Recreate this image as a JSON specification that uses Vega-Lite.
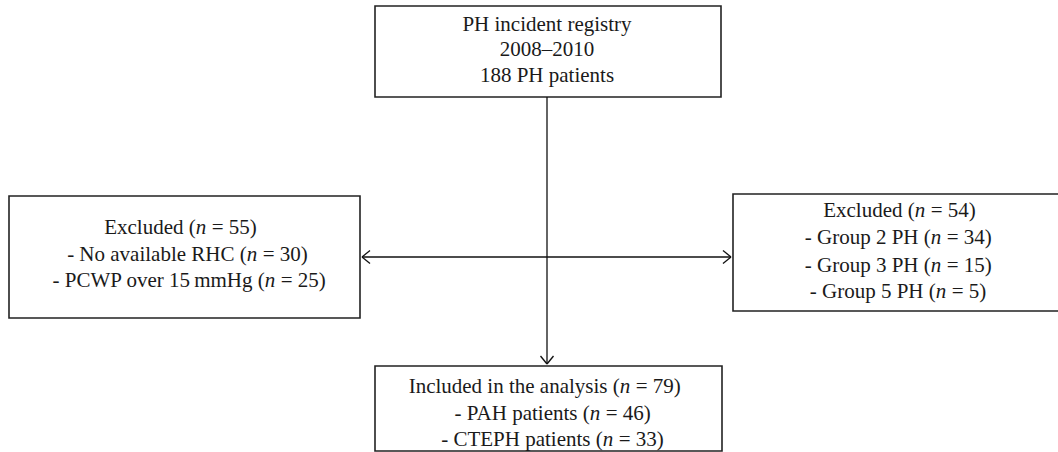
{
  "$schema": "https://vega.github.io/schema/vega-lite/v6.json",
  "width": 1058,
  "height": 452,
  "autosize": {"type": "none"},
  "padding": 0,
  "background": "white",
  "config": {"view": {"stroke": null}},
  "datasets": {
    "boxes": [
      {"box": "registry", "x": 375, "x2": 721, "y": 6, "y2": 97},
      {"box": "excluded_left", "x": 9, "x2": 360, "y": 196, "y2": 318},
      {"box": "excluded_right", "x": 733, "x2": 1072, "y": 194, "y2": 311},
      {"box": "included", "x": 375, "x2": 722, "y": 366, "y2": 451}
    ],
    "segments": [
      {"seg": "horizontal", "x": 362, "y": 257, "x2": 731, "y2": 257},
      {"seg": "vertical", "x": 547, "y": 97, "x2": 547, "y2": 364},
      {"seg": "head_left_a", "x": 362, "y": 257, "x2": 370, "y2": 250.5},
      {"seg": "head_left_b", "x": 362, "y": 257, "x2": 370, "y2": 263.5},
      {"seg": "head_right_a", "x": 731, "y": 257, "x2": 723, "y2": 250.5},
      {"seg": "head_right_b", "x": 731, "y": 257, "x2": 723, "y2": 263.5},
      {"seg": "head_down_a", "x": 547, "y": 364, "x2": 540.5, "y2": 356},
      {"seg": "head_down_b", "x": 547, "y": 364, "x2": 553.5, "y2": 356}
    ],
    "plain": [
      {"t": "PH incident registry", "x": 547, "y": 31},
      {"t": "2008–2010", "x": 547, "y": 56},
      {"t": "188 PH patients", "x": 547, "y": 82}
    ],
    "withn": [
      {"pre": "Excluded (", "post": "= 55)", "x": 201, "y": 234},
      {"pre": "- No available RHC (", "post": "= 30)", "x": 252, "y": 261},
      {"pre": "- PCWP over 15\u2009mmHg (", "post": "= 25)", "x": 270, "y": 287},
      {"pre": "Excluded (", "post": "= 54)", "x": 920, "y": 217},
      {"pre": "- Group 2 PH (", "post": "= 34)", "x": 936, "y": 244},
      {"pre": "- Group 3 PH (", "post": "= 15)", "x": 936, "y": 272},
      {"pre": "- Group 5 PH (", "post": "= 5)", "x": 941, "y": 298},
      {"pre": "Included in the analysis (", "post": "= 79)", "x": 625, "y": 393},
      {"pre": "- PAH patients (", "post": "= 46)", "x": 595, "y": 420},
      {"pre": "- CTEPH patients (", "post": "= 33)", "x": 608, "y": 446}
    ]
  },
  "layer": [
    {
      "data": {"name": "boxes"},
      "mark": {"type": "rect", "fill": "white", "stroke": "#222222", "strokeWidth": 1.6},
      "encoding": {
        "x": {"field": "x", "type": "quantitative", "scale": {"domain": [0, 1058], "nice": false, "zero": false}, "axis": null},
        "x2": {"field": "x2"},
        "y": {"field": "y", "type": "quantitative", "scale": {"domain": [0, 452], "nice": false, "zero": false, "reverse": true}, "axis": null},
        "y2": {"field": "y2"}
      }
    },
    {
      "data": {"name": "segments"},
      "mark": {"type": "rule", "stroke": "#111111", "strokeWidth": 1.3},
      "encoding": {
        "x": {"field": "x", "type": "quantitative", "axis": null},
        "x2": {"field": "x2"},
        "y": {"field": "y", "type": "quantitative", "axis": null},
        "y2": {"field": "y2"}
      }
    },
    {
      "data": {"name": "plain"},
      "mark": {"type": "text", "font": "Liberation Serif", "fontSize": 21, "align": "center", "baseline": "alphabetic", "color": "#1a1a1a"},
      "encoding": {
        "x": {"field": "x", "type": "quantitative", "axis": null},
        "y": {"field": "y", "type": "quantitative", "axis": null},
        "text": {"field": "t"}
      }
    },
    {
      "data": {"name": "withn"},
      "mark": {"type": "text", "font": "Liberation Serif", "fontSize": 21, "align": "right", "dx": -5.25, "baseline": "alphabetic", "color": "#1a1a1a"},
      "encoding": {
        "x": {"field": "x", "type": "quantitative", "axis": null},
        "y": {"field": "y", "type": "quantitative", "axis": null},
        "text": {"field": "pre"}
      }
    },
    {
      "data": {"name": "withn"},
      "mark": {"type": "text", "font": "Liberation Serif", "fontSize": 21, "fontStyle": "italic", "align": "center", "baseline": "alphabetic", "color": "#1a1a1a"},
      "encoding": {
        "x": {"field": "x", "type": "quantitative", "axis": null},
        "y": {"field": "y", "type": "quantitative", "axis": null},
        "text": {"value": "n"}
      }
    },
    {
      "data": {"name": "withn"},
      "mark": {"type": "text", "font": "Liberation Serif", "fontSize": 21, "align": "left", "dx": 10.75, "baseline": "alphabetic", "color": "#1a1a1a"},
      "encoding": {
        "x": {"field": "x", "type": "quantitative", "axis": null},
        "y": {"field": "y", "type": "quantitative", "axis": null},
        "text": {"field": "post"}
      }
    }
  ]
}
